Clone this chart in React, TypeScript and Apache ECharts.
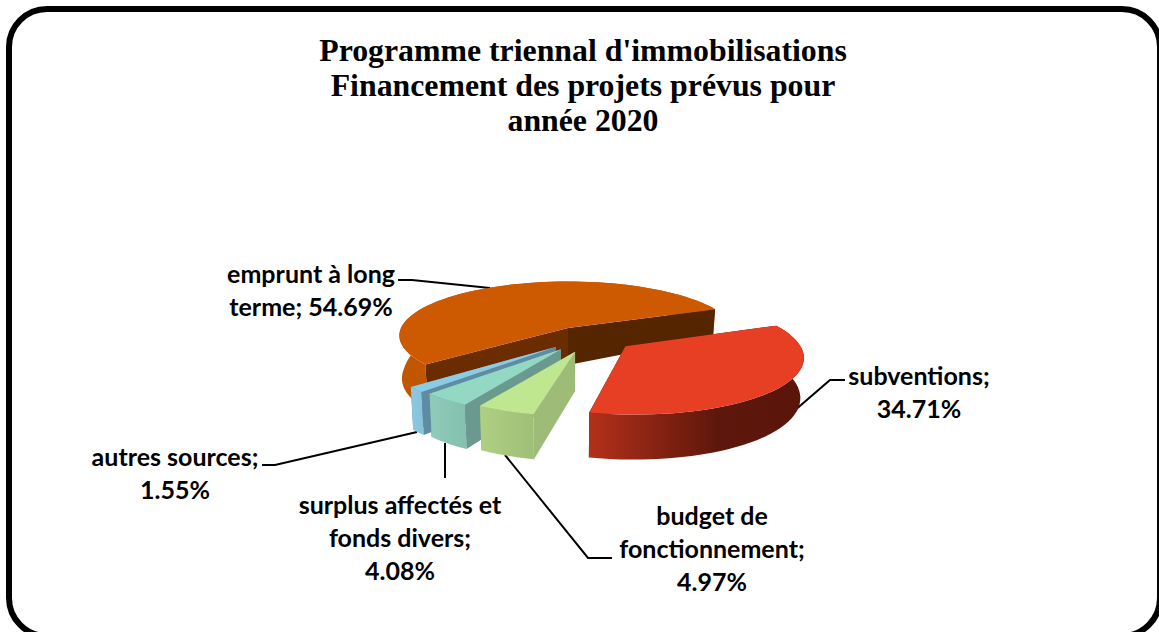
import React, { useEffect, useRef } from "react";
import * as echarts from "echarts";

// Data, clockwise from the first slice angle
const categories = ["subventions", "budget de\nfonctionnement", "surplus affectés et\nfonds divers", "autres sources", "emprunt à long\nterme"];
const percents = [34.71, 4.97, 4.08, 1.55, 54.69];
const separators = [";\n", ";\n", ";\n", ";\n", "; "];
const titleLines = ["Programme triennal d'immobilisations", "Financement des projets prévus pour", "année 2020"];

// Layout of the fake 3D pie
const CX = 568, CY = 328, RX = 167, RY = 53, PERSP = 0.14, START = -22;
const explodeU = [0.328, 0.04, -0.04, -0.07, 0];
const explodeV = [0.33, 0.42, 0.38, 0.34, 0];
const angleNudge = [0, 0, -1, -1, 0];
const radiusScale = [1, 0.93, 0.95, 0.97, 1];
const outerDepthBoost = [0, 0, 0, 0, 5];
const drawOrder = [1, 4, 3, 2, 0];
const labelPos = [[919, 391], [712, 548], [400, 537], [175, 472], [311, 289]];
const leaders = [
  [[845, 380], [830, 380], [772, 430]],
  [[505, 455], [588, 558], [612, 558]],
  [[445, 443], [445, 478]],
  [[417, 432], [275, 465], [262, 465]],
  [[398, 280], [412, 280], [490, 288]],
];
const grad = (stops: [number, string][]) =>
  new echarts.graphic.LinearGradient(0, 0, 1, 0, stops.map(([offset, color]) => ({ offset, color })));
const topColors = ["#e63f23", "#bfe78f", "#93d8c3", "#8ccbe4", "#cd5a00"];
const outerFills = [
  grad([[0, "#b3301a"], [0.6, "#5e170b"], [1, "#5a150a"]]),
  grad([[0, "#afcf84"], [1, "#9fbf76"]]),
  grad([[0, "#8fcbb8"], [1, "#84c0ae"]]),
  grad([[0, "#8cc8e0"], [1, "#86c2da"]]),
  "#c25500",
];
const startWallColors = ["#5a150a", "#9fbb78", "#6a9a8f", "#5d8ca3", "#6b2d00"];
const endWallColors = ["#5a150a", "#9fbb78", "#6a9a8f", "#5d8ca3", "#552500"];
// Stacking of the two flat walls relative to the outer wall (rank 1)
const startWallRank = [0, 3, 3, 3, 3];
const endWallRank = [0, 0, 0, 0, 2];

const project = (u: number, v: number) => {
  const s = 1 / (1 - PERSP * v);
  return [CX + RX * u * s, CY + RY * v * s];
};
const depth = (v: number) => (v < 0 ? 37 + 25 * v : 37 + 6 * v);
const projectBottom = (u: number, v: number, boost = 0) => {
  const [x, y] = project(u, v);
  return [CX + (x - CX) * 0.985, y + depth(v) + boost];
};

function renderItem(params: any, api: any) {
  const i = params.dataIndex;
  const total = percents.reduce((a, b) => a + b, 0);
  const before = percents.slice(0, i).reduce((a, b) => a + b, 0);
  const a0 = START + angleNudge[i] + (before / total) * 360;
  const a1 = a0 + (api.value(0) / total) * 360;
  const ou = explodeU[i], ov = explodeV[i], r = radiusScale[i];
  const rim: [number, number][] = [];
  const steps = Math.max(4, Math.ceil((a1 - a0) / 3));
  for (let k = 0; k <= steps; k++) {
    const t = ((a0 + ((a1 - a0) * k) / steps) * Math.PI) / 180;
    rim.push([ou + r * Math.cos(t), ov + r * Math.sin(t)]);
  }
  const z = drawOrder[i] * 10;
  const apexT = project(ou, ov), apexB = projectBottom(ou, ov);
  const first = rim[0], last = rim[rim.length - 1];
  const poly = (points: number[][], fill: any, z2: number) => ({ type: "polygon", shape: { points }, style: { fill }, z2 });
  const children: any[] = [
    poly(rim.map((p) => project(p[0], p[1])).concat(rim.slice().reverse().map((p) => projectBottom(p[0], p[1], outerDepthBoost[i]))), outerFills[i], z + 1),
    poly([apexT, project(last[0], last[1]), projectBottom(last[0], last[1]), apexB], endWallColors[i], z + endWallRank[i]),
    poly([apexT, project(first[0], first[1]), projectBottom(first[0], first[1]), apexB], startWallColors[i], z + startWallRank[i]),
    poly([apexT].concat(rim.map((p) => project(p[0], p[1]))), topColors[i], z + 4),
    { type: "polyline", shape: { points: leaders[i] }, style: { stroke: "#000", lineWidth: 2, fill: "none" }, z2: 1 },
    {
      type: "text",
      x: labelPos[i][0],
      y: labelPos[i][1],
      style: {
        text: `${categories[i]}${separators[i]}${api.value(0).toFixed(2)}%`,
        fontFamily: "Lato",
        fontWeight: "bold",
        fontSize: 25,
        lineHeight: 33,
        fill: "#000",
        align: "center",
        verticalAlign: "middle",
      },
      z2: 100,
    },
  ];
  return { type: "group", children };
}

export default function App() {
  const ref = useRef<HTMLDivElement>(null);
  useEffect(() => {
    const chart = echarts.init(ref.current!, null, { renderer: "svg" });
    chart.setOption({
      animation: false,
      backgroundColor: "#fff",
      title: {
        text: titleLines.join("\n"),
        left: 578,
        top: 28,
        textAlign: "center",
        textStyle: { fontFamily: "Liberation Serif", fontWeight: "bold", fontSize: 31.8, lineHeight: 35, color: "#000" },
      },
      graphic: [
        { type: "rect", shape: { x: 9, y: 9, width: 1151, height: 627, r: 38 }, style: { fill: "none", stroke: "#000", lineWidth: 6 }, z: 50 },
      ],
      series: [
        {
          type: "custom",
          coordinateSystem: "none",
          silent: true,
          renderItem,
          data: percents.map((p) => [p]),
        },
      ],
    });
    return () => chart.dispose();
  }, []);
  return <div ref={ref} style={{ position: "absolute", left: 0, top: 0, width: 1159, height: 632, overflow: "hidden" }} />;
}
